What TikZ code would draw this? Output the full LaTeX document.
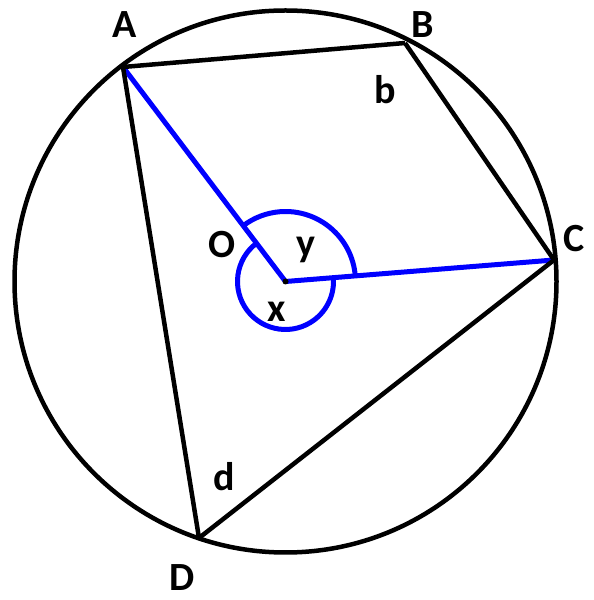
\documentclass[tikz,border=0pt]{standalone}
\usepackage{fontspec}
\setmainfont{Carlito}
\begin{document}
\begin{tikzpicture}[x=1pt,y=1pt,
  blk/.style={line width=4.5pt,black},
  blu/.style={line width=5pt,blue},
  lab/.style={inner sep=0pt,font=\fontsize{40}{40}\selectfont\bfseries}]
\useasboundingbox (0,0) rectangle (594,600);
\coordinate (O) at (285.5,318.5);
\coordinate (A) at (123,533);
\coordinate (B) at (405,557);
\coordinate (C) at (554,340);
\coordinate (D) at (199,62);
% blue radii and angle arcs
\draw[blu] (O) -- (A);
\draw[blu] (O) -- (C);
\draw[blu] ([shift={(4.58:70)}]O) arc[start angle=4.58,end angle=127.15,radius=70];
\draw[blu] ([shift={(127.15:48)}]O) arc[start angle=127.15,end angle=364.58,radius=48];
% circle and quadrilateral
\draw[blk] (O) circle[radius=271];
\draw[blk] (A) -- (B);
\draw[blk] (B) -- (C);
\draw[blk] (C) -- (D);
\draw[blk] (D) -- (A);
\fill[black] (O) circle[radius=3];
% labels
\node[lab] (lA) at (125,575) {A};
\node[lab] (lB) at (423,575) {B};
\node[lab] (lC) at (574,361) {C};
\node[lab] (lD) at (182,22) {D};
\node[lab] (lO) at (222,355) {O};
\node[lab] (ly) at (306,350) {y};
\node[lab] (lx) at (277,288) {x};
\node[lab] (lb) at (385,510) {b};
\node[lab] (ld) at (224,123) {d};
\end{tikzpicture}
\end{document}
